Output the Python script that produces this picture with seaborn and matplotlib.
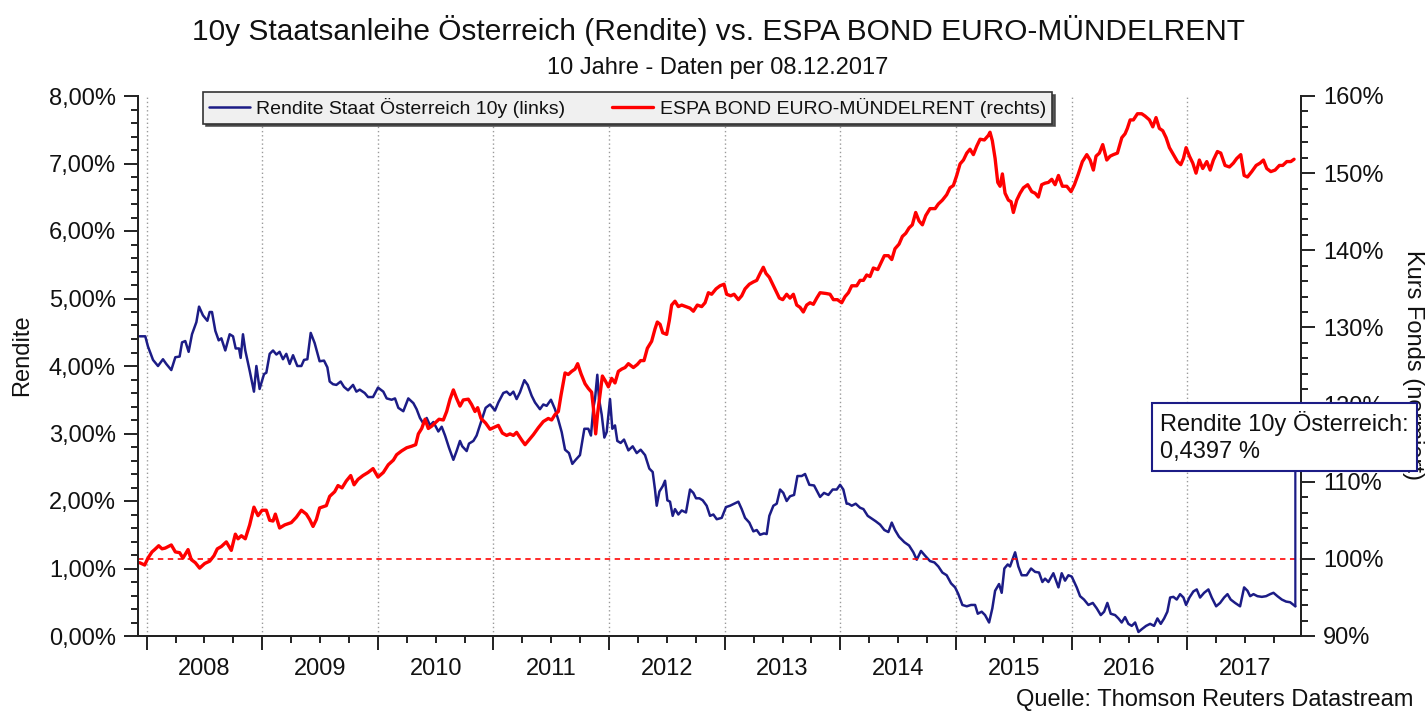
import numpy as np
import pandas as pd
import matplotlib
matplotlib.use("Agg")
import matplotlib.pyplot as plt
import seaborn as sns
from matplotlib.ticker import MultipleLocator, FixedLocator, FuncFormatter, NullFormatter

# ---------------- data ----------------
title = "10y Staatsanleihe Österreich (Rendite) vs. ESPA BOND EURO-MÜNDELRENT"
subtitle = "10 Jahre - Daten per 08.12.2017"
source = "Quelle: Thomson Reuters Datastream"
label_blue = "Rendite Staat Österreich 10y (links)"
label_red = "ESPA BOND EURO-MÜNDELRENT (rechts)"
ylabel_left = "Rendite"
ylabel_right = "Kurs Fonds (normiert)"
last_label = "Rendite 10y Österreich:\n0,4397 %"
years = list(range(2008, 2018))

# Rendite 10y Austria (left axis, %), time in decimal years
blue_t = [2007.939, 2007.988, 2008.011, 2008.055, 2008.098, 2008.141, 2008.170, 2008.213, 2008.248, 2008.285,
          2008.306, 2008.334, 2008.363, 2008.392, 2008.430, 2008.453, 2008.487, 2008.525, 2008.545, 2008.565,
          2008.594, 2008.623, 2008.646, 2008.680, 2008.718, 2008.747, 2008.770, 2008.799, 2008.813, 2008.833,
          2008.853, 2008.891, 2008.928, 2008.949, 2008.977, 2009.015, 2009.035, 2009.064, 2009.093, 2009.122,
          2009.150, 2009.179, 2009.208, 2009.237, 2009.266, 2009.303, 2009.338, 2009.361, 2009.390, 2009.419,
          2009.453, 2009.496, 2009.534, 2009.563, 2009.583, 2009.612, 2009.641, 2009.678, 2009.707, 2009.742,
          2009.785, 2009.814, 2009.843, 2009.886, 2009.915, 2009.958, 2010.001,
          2010.047, 2010.076, 2010.119, 2010.148, 2010.177, 2010.220, 2010.263, 2010.307, 2010.335, 2010.364,
          2010.393, 2010.422, 2010.451, 2010.480, 2010.523, 2010.552, 2010.581, 2010.615, 2010.653, 2010.681,
          2010.710, 2010.730, 2010.768, 2010.788, 2010.826, 2010.854, 2010.898, 2010.932, 2010.970, 2011.013,
          2011.042, 2011.085, 2011.114, 2011.143, 2011.172, 2011.200, 2011.229, 2011.267, 2011.296, 2011.330,
          2011.359, 2011.402, 2011.431, 2011.460, 2011.497, 2011.532, 2011.561, 2011.590, 2011.619, 2011.653,
          2011.682, 2011.711, 2011.748, 2011.786, 2011.820, 2011.843, 2011.864, 2011.878, 2011.898, 2011.913,
          2011.936, 2011.959, 2011.979, 2012.008, 2012.028,
          2012.051, 2012.071, 2012.100, 2012.129, 2012.167, 2012.204, 2012.239, 2012.273, 2012.311, 2012.348,
          2012.377, 2012.397, 2012.412, 2012.435, 2012.464, 2012.484, 2012.504, 2012.527, 2012.550, 2012.570,
          2012.599, 2012.628, 2012.665, 2012.700, 2012.729, 2012.752, 2012.781, 2012.810, 2012.844, 2012.873,
          2012.902, 2012.931, 2012.974, 2013.011, 2013.046, 2013.081, 2013.118, 2013.147, 2013.176, 2013.213,
          2013.248, 2013.277, 2013.306, 2013.340, 2013.363, 2013.386, 2013.421, 2013.450, 2013.479, 2013.507,
          2013.536, 2013.565, 2013.600, 2013.629, 2013.666, 2013.695, 2013.732, 2013.773, 2013.825, 2013.859,
          2013.897, 2013.934, 2013.969, 2013.998, 2014.026, 2014.055,
          2014.070, 2014.099, 2014.133, 2014.171, 2014.200, 2014.237, 2014.272, 2014.306, 2014.344, 2014.381,
          2014.416, 2014.445, 2014.473, 2014.508, 2014.554, 2014.595, 2014.632, 2014.661, 2014.698, 2014.733,
          2014.776, 2014.814, 2014.848, 2014.883, 2014.920, 2014.958, 2014.993, 2015.021, 2015.056, 2015.094,
          2015.131, 2015.166, 2015.189, 2015.223, 2015.252, 2015.287, 2015.315, 2015.339, 2015.373, 2015.396,
          2015.419, 2015.448, 2015.468, 2015.512, 2015.540, 2015.569, 2015.612, 2015.650, 2015.685, 2015.719,
          2015.748, 2015.771, 2015.800, 2015.843, 2015.887, 2015.915, 2015.944, 2015.973, 2016.002, 2016.045,
          2016.074,
          2016.108, 2016.146, 2016.184, 2016.218, 2016.253, 2016.282, 2016.310, 2016.339, 2016.377, 2016.406,
          2016.434, 2016.463, 2016.492, 2016.521, 2016.550, 2016.579, 2016.607, 2016.645, 2016.680, 2016.714,
          2016.743, 2016.772, 2016.801, 2016.829, 2016.853, 2016.881, 2016.910, 2016.939, 2016.968, 2016.991,
          2017.020, 2017.054, 2017.083, 2017.112, 2017.147, 2017.184, 2017.213, 2017.251, 2017.285, 2017.320,
          2017.349, 2017.377, 2017.415, 2017.458, 2017.493, 2017.522, 2017.545, 2017.574, 2017.608, 2017.646,
          2017.683, 2017.718, 2017.747, 2017.781, 2017.819, 2017.856, 2017.891, 2017.936]
blue_v = [4.44, 4.44, 4.29, 4.09, 4.00, 4.10, 4.03, 3.94, 4.13, 4.14,
          4.35, 4.37, 4.21, 4.47, 4.65, 4.88, 4.75, 4.67, 4.80, 4.80,
          4.52, 4.38, 4.41, 4.23, 4.47, 4.44, 4.26, 4.26, 4.12, 4.47,
          4.23, 3.93, 3.62, 4.00, 3.66, 3.88, 3.90, 4.18, 4.23, 4.17,
          4.21, 4.10, 4.18, 4.03, 4.16, 4.00, 4.00, 4.09, 4.10, 4.49,
          4.34, 4.07, 4.08, 3.98, 3.77, 3.73, 3.72, 3.77, 3.69, 3.64,
          3.72, 3.62, 3.65, 3.60, 3.54, 3.54, 3.68,
          3.62, 3.52, 3.50, 3.52, 3.38, 3.33, 3.52, 3.45, 3.36, 3.23,
          3.15, 3.23, 3.12, 3.17, 3.03, 3.10, 2.97, 2.79, 2.61, 2.74,
          2.89, 2.81, 2.74, 2.85, 2.89, 2.97, 3.20, 3.38, 3.43, 3.34,
          3.46, 3.60, 3.62, 3.57, 3.62, 3.51, 3.61, 3.79, 3.72, 3.56,
          3.46, 3.36, 3.43, 3.41, 3.50, 3.36, 3.20, 3.02, 2.76, 2.71,
          2.55, 2.61, 2.68, 3.07, 3.07, 2.97, 3.38, 3.51, 3.87, 3.51,
          3.28, 2.94, 3.02, 3.51, 3.07,
          3.12, 2.89, 2.86, 2.91, 2.75, 2.81, 2.71, 2.76, 2.68, 2.48,
          2.43, 2.17, 1.93, 2.14, 2.22, 2.30, 2.01, 1.99, 1.78, 1.88,
          1.80, 1.86, 1.83, 2.17, 2.12, 2.04, 2.04, 2.01, 1.93, 1.78,
          1.80, 1.73, 1.75, 1.91, 1.93, 1.96, 1.99, 1.88, 1.75, 1.68,
          1.55, 1.57, 1.50, 1.52, 1.51, 1.78, 1.93, 1.96, 2.17, 2.12,
          2.00, 2.07, 2.09, 2.37, 2.37, 2.40, 2.24, 2.23, 2.06, 2.12,
          2.09, 2.17, 2.17, 2.24, 2.17, 1.96,
          1.96, 1.93, 1.96, 1.90, 1.88, 1.78, 1.74, 1.70, 1.65, 1.57,
          1.54, 1.68, 1.57, 1.47, 1.39, 1.34, 1.24, 1.13, 1.26, 1.19,
          1.11, 1.09, 1.03, 0.94, 0.90, 0.78, 0.72, 0.62, 0.46, 0.44,
          0.46, 0.46, 0.33, 0.36, 0.31, 0.20, 0.41, 0.67, 0.77, 0.64,
          1.00, 1.06, 1.03, 1.24, 1.03, 0.90, 0.90, 1.00, 0.95, 0.94,
          0.80, 0.85, 0.80, 0.93, 0.72, 0.93, 0.82, 0.90, 0.88, 0.72,
          0.59,
          0.54, 0.46, 0.49, 0.41, 0.31, 0.36, 0.49, 0.33, 0.31, 0.26,
          0.20, 0.28, 0.18, 0.15, 0.20, 0.06, 0.10, 0.15, 0.18, 0.15,
          0.26, 0.18, 0.26, 0.36, 0.57, 0.58, 0.54, 0.62, 0.57, 0.46,
          0.57, 0.66, 0.69, 0.57, 0.64, 0.69, 0.57, 0.44, 0.49, 0.57,
          0.62, 0.54, 0.49, 0.44, 0.72, 0.67, 0.59, 0.62, 0.59, 0.58,
          0.59, 0.62, 0.64, 0.59, 0.54, 0.51, 0.50, 0.44]

# ESPA BOND EURO-MÜNDELRENT (right axis, % normalised)
red_t = [2007.939, 2007.983, 2008.011, 2008.046, 2008.069, 2008.104, 2008.133, 2008.161, 2008.213, 2008.248,
         2008.285, 2008.314, 2008.358, 2008.386, 2008.421, 2008.458, 2008.502, 2008.545, 2008.582, 2008.611,
         2008.646, 2008.689, 2008.732, 2008.767, 2008.790, 2008.819, 2008.853, 2008.891, 2008.928, 2008.963,
         2008.998, 2009.035, 2009.064, 2009.093, 2009.113, 2009.150, 2009.194, 2009.251, 2009.295, 2009.338,
         2009.381, 2009.410, 2009.439, 2009.468, 2009.496, 2009.554, 2009.583, 2009.626, 2009.655, 2009.690,
         2009.727, 2009.765, 2009.794, 2009.828, 2009.871, 2009.915, 2009.958, 2010.001,
         2010.047, 2010.090, 2010.134, 2010.162, 2010.206, 2010.249, 2010.292, 2010.327, 2010.350, 2010.379,
         2010.408, 2010.436, 2010.465, 2010.494, 2010.529, 2010.566, 2010.595, 2010.624, 2010.653, 2010.681,
         2010.710, 2010.739, 2010.782, 2010.811, 2010.840, 2010.863, 2010.892, 2010.932, 2010.970, 2011.013,
         2011.042, 2011.077, 2011.114, 2011.143, 2011.172, 2011.200, 2011.244, 2011.273, 2011.301, 2011.345,
         2011.388, 2011.431, 2011.474, 2011.503, 2011.532, 2011.561, 2011.584, 2011.619, 2011.647, 2011.676,
         2011.705, 2011.728, 2011.757, 2011.792, 2011.820, 2011.849, 2011.864, 2011.884, 2011.901, 2011.921,
         2011.942, 2011.970, 2011.994, 2012.022, 2012.051,
         2012.080, 2012.109, 2012.138, 2012.167, 2012.210, 2012.244, 2012.273, 2012.302, 2012.331, 2012.368,
         2012.397, 2012.417, 2012.441, 2012.464, 2012.498, 2012.521, 2012.541, 2012.570, 2012.599, 2012.628,
         2012.665, 2012.700, 2012.729, 2012.763, 2012.801, 2012.830, 2012.859, 2012.887, 2012.925, 2012.960,
         2012.994, 2013.017, 2013.052, 2013.081, 2013.118, 2013.147, 2013.176, 2013.213, 2013.248, 2013.277,
         2013.306, 2013.334, 2013.357, 2013.386, 2013.421, 2013.444, 2013.473, 2013.502, 2013.536, 2013.565,
         2013.594, 2013.623, 2013.652, 2013.680, 2013.709, 2013.738, 2013.767, 2013.796, 2013.825, 2013.877,
         2013.911, 2013.940, 2013.975, 2014.012, 2014.041,
         2014.070, 2014.099, 2014.142, 2014.171, 2014.200, 2014.228, 2014.257, 2014.286, 2014.324, 2014.352,
         2014.381, 2014.416, 2014.445, 2014.473, 2014.508, 2014.537, 2014.566, 2014.595, 2014.623, 2014.652,
         2014.681, 2014.710, 2014.739, 2014.776, 2014.820, 2014.848, 2014.883, 2014.920, 2014.949, 2014.978,
         2015.007, 2015.036, 2015.065, 2015.094, 2015.122, 2015.151, 2015.180, 2015.209, 2015.246, 2015.281,
         2015.295, 2015.315, 2015.339, 2015.362, 2015.382, 2015.402, 2015.425, 2015.454, 2015.477, 2015.497,
         2015.526, 2015.555, 2015.584, 2015.621, 2015.656, 2015.685, 2015.713, 2015.742, 2015.771, 2015.800,
         2015.829, 2015.858, 2015.887, 2015.921, 2015.959, 2015.996, 2016.025, 2016.059, 2016.094,
         2016.103, 2016.132, 2016.161, 2016.189, 2016.212, 2016.241, 2016.270, 2016.305, 2016.334, 2016.362,
         2016.397, 2016.435, 2016.463, 2016.483, 2016.507, 2016.535, 2016.570, 2016.607, 2016.636, 2016.674,
         2016.703, 2016.731, 2016.760, 2016.789, 2016.818, 2016.847, 2016.881, 2016.916, 2016.945, 2016.968,
         2016.991, 2017.020, 2017.049, 2017.077, 2017.106, 2017.135, 2017.170, 2017.199, 2017.227, 2017.262,
         2017.291, 2017.328, 2017.366, 2017.400, 2017.429, 2017.464, 2017.493, 2017.522, 2017.559, 2017.597,
         2017.631, 2017.660, 2017.689, 2017.724, 2017.761, 2017.798, 2017.827, 2017.862, 2017.897, 2017.925]
red_v = [99.5, 99.2, 100.1, 100.9, 101.2, 101.7, 101.3, 101.4, 101.8, 100.9,
         100.8, 100.1, 101.2, 99.9, 99.5, 98.8, 99.4, 99.7, 100.4, 101.3,
         101.6, 102.2, 101.1, 103.2, 102.6, 103.0, 102.6, 104.4, 106.7, 105.6,
         106.3, 106.3, 105.0, 104.9, 105.8, 104.0, 104.4, 104.7, 105.4, 106.3,
         105.8, 105.1, 104.2, 105.1, 106.6, 106.9, 108.1, 108.7, 109.5, 109.2,
         110.1, 110.8, 109.6, 110.3, 110.8, 111.2, 111.7, 110.6,
         111.2, 112.2, 112.8, 113.5, 114.0, 114.4, 114.6, 114.8, 116.2, 116.9,
         118.1, 116.9, 117.2, 117.6, 118.1, 118.0, 119.1, 120.7, 121.9, 120.8,
         119.8, 120.6, 120.7, 120.0, 119.1, 119.6, 118.2, 117.6, 116.8, 117.1,
         117.3, 116.3, 116.0, 116.2, 116.0, 116.4, 115.4, 114.8, 115.3, 116.1,
         117.0, 117.8, 118.2, 118.0, 118.7, 119.1, 121.2, 124.1, 123.9, 124.3,
         124.6, 125.3, 124.0, 122.7, 122.1, 121.6, 119.6, 116.2, 118.9, 121.2,
         123.7, 123.0, 122.3, 123.4, 122.8,
         124.3, 124.6, 124.8, 125.3, 124.8, 125.2, 125.7, 125.7, 127.3, 128.2,
         129.8, 130.7, 130.4, 129.3, 129.1, 130.9, 132.9, 133.4, 132.7, 132.9,
         132.7, 132.5, 132.1, 132.9, 132.7, 133.2, 134.5, 134.3, 135.0, 135.4,
         135.6, 134.3, 134.1, 134.3, 133.6, 134.1, 135.0, 135.6, 135.9, 136.1,
         137.0, 137.8, 137.0, 136.5, 135.4, 134.7, 133.8, 133.6, 134.3, 133.8,
         134.3, 132.9, 132.6, 132.0, 132.9, 133.2, 133.0, 133.8, 134.5, 134.4,
         134.3, 133.6, 133.6, 133.2, 134.0,
         134.5, 135.4, 135.4, 136.1, 136.1, 136.8, 136.6, 137.7, 137.5, 138.4,
         139.3, 139.3, 138.8, 140.2, 140.8, 141.8, 142.2, 142.9, 143.3, 144.9,
         143.8, 143.3, 144.5, 145.4, 145.4, 146.0, 146.5, 147.2, 148.1, 148.4,
         149.7, 151.2, 151.7, 152.6, 153.1, 152.4, 153.5, 154.4, 154.3, 154.9,
         155.3, 154.2, 151.9, 148.8, 148.3, 149.9, 147.4, 146.5, 146.3, 144.9,
         146.5, 147.4, 148.1, 148.5, 147.6, 147.4, 146.9, 148.5, 148.7, 148.8,
         149.2, 148.5, 149.7, 148.3, 148.3, 147.6, 148.5, 149.9, 151.5,
         151.7, 152.4, 151.7, 150.4, 152.2, 152.6, 153.7, 151.7, 152.2, 152.4,
         152.6, 154.6, 155.1, 155.8, 156.9, 156.9, 157.7, 157.7, 157.4, 156.9,
         156.0, 157.2, 155.8, 155.5, 154.6, 153.3, 152.4, 151.5, 151.1, 151.9,
         153.3, 152.2, 151.3, 150.0, 151.7, 150.6, 151.5, 150.4, 151.7, 152.8,
         152.6, 151.0, 150.8, 151.3, 151.9, 152.4, 149.7, 149.5, 150.2, 151.0,
         151.3, 151.7, 150.6, 150.2, 150.4, 151.0, 151.0, 151.5, 151.5, 151.8]

# ---------------- styling ----------------
NAVY = "#1c1c86"
RED = "#ff0000"
TXT = "#111111"
W, H = 1426, 713

sns.set_theme(style="ticks")
plt.rcParams["font.family"] = ["Liberation Sans", "DejaVu Sans"]
plt.rcParams["text.color"] = TXT
plt.rcParams["axes.labelcolor"] = TXT
plt.rcParams["xtick.color"] = "#222222"
plt.rcParams["ytick.color"] = "#222222"

fig = plt.figure(figsize=(W / 100, H / 100), dpi=100)
ax = fig.add_axes([138 / W, (H - 636) / H, (1301 - 138) / W, (636 - 96) / H])
ax2 = ax.twinx()

df_b = pd.DataFrame({"Jahr": blue_t, "Rendite": blue_v})
df_r = pd.DataFrame({"Jahr": red_t, "Kurs": red_v})

sns.lineplot(data=df_b, x="Jahr", y="Rendite", ax=ax, color=NAVY, linewidth=1.8,
             estimator=None, sort=False, legend=False)
sns.lineplot(data=df_r, x="Jahr", y="Kurs", ax=ax2, color=RED, linewidth=2.4,
             estimator=None, sort=False, legend=False)
h_blue = ax.lines[0]
h_red = ax2.lines[0]
ax2.axhline(100, color=RED, linewidth=1.3, linestyle=(0, (3, 2.5)), zorder=1, alpha=0.9)

# x axis
ax.set_xlim(2007.925, 2017.985)
ax.xaxis.set_major_locator(FixedLocator(years))
ax.xaxis.set_major_formatter(NullFormatter())
ax.xaxis.set_minor_locator(MultipleLocator(0.25))
ax.xaxis.set_minor_formatter(FuncFormatter(
    lambda v, p: f"{int(np.floor(v))}" if abs(v - np.floor(v) - 0.5) < 1e-6 else ""))
ax.tick_params(axis="x", which="major", length=10, width=1.4, direction="out", bottom=True)
ax.tick_params(axis="x", which="minor", length=5, width=1.4, direction="out", bottom=True,
               pad=11, labelsize=17, labelcolor=TXT)
ax.grid(axis="x", which="major", color="#9a9a9a", linestyle=(0, (1, 2)), linewidth=1.0)
ax.set_xlabel("")

# left y axis
ax.set_ylim(0, 8)
ax.yaxis.set_major_locator(MultipleLocator(1))
ax.yaxis.set_minor_locator(MultipleLocator(0.2))
ax.yaxis.set_major_formatter(FuncFormatter(lambda v, p: f"{v:.2f}%".replace(".", ",")))
ax.tick_params(axis="y", which="major", length=10, width=1.4, direction="out", left=True,
               pad=6, labelsize=17, labelcolor=TXT)
ax.tick_params(axis="y", which="minor", length=5, width=1.4, direction="out", left=True)
ax.set_ylabel(ylabel_left, fontsize=17, rotation=90, va="center", ha="center")
ax.yaxis.set_label_coords((22 - 138) / (1301 - 138), (636 - 355) / 540)

# right y axis
ax2.set_ylim(90, 160)
ax2.yaxis.set_major_locator(MultipleLocator(10))
ax2.yaxis.set_minor_locator(MultipleLocator(2))
ax2.yaxis.set_major_formatter(FuncFormatter(lambda v, p: f"{v:.0f}%"))
ax2.tick_params(axis="y", which="major", length=10, width=1.4, direction="out", right=True,
                pad=6, labelsize=17, labelcolor=TXT)
ax2.tick_params(axis="y", which="minor", length=5, width=1.4, direction="out", right=True)
ax2.set_ylabel(ylabel_right, fontsize=17, rotation=-90, va="center", ha="center",
               rotation_mode="anchor")
ax2.yaxis.set_label_coords((1413 - 138) / (1301 - 138), (636 - 365) / 540)

for a in (ax, ax2):
    a.spines["top"].set_visible(False)
    for s in ("left", "right", "bottom"):
        a.spines[s].set_color("#222222")
        a.spines[s].set_linewidth(1.4)

# legend
leg = ax2.legend([h_blue, h_red], [label_blue, label_red], loc="upper left",
                 bbox_to_anchor=(203 / W, 1 - 92 / H), bbox_transform=fig.transFigure,
                 ncol=2, frameon=True, fancybox=False,
                 shadow={"ox": 2, "oy": -2, "color": "#444444", "alpha": 0.9},
                 fontsize=14, handlelength=2.1, handletextpad=0.35, columnspacing=2.4,
                 borderpad=0.3, borderaxespad=0)
leg.get_frame().set_facecolor("#f0f0f0")
leg.get_frame().set_edgecolor("#333333")
leg.get_frame().set_linewidth(1.2)
leg.set_zorder(5)

# titles & source
fig.text(718 / W, 1 - 30 / H, title, ha="center", va="center", fontsize=21.5, color=TXT)
fig.text(718 / W, 1 - 68 / H, subtitle, ha="center", va="center", fontsize=17, color=TXT)
fig.text(1413 / W, 1 - 700 / H, source, ha="right", va="center", fontsize=17, color=TXT)

# annotation of the last value (box + connector)
txt_xy = (1160, H - 437)
tmp = fig.text(txt_xy[0] / W, txt_xy[1] / H, last_label, fontsize=17, linespacing=1.25,
               ha="left", va="center")
fig.canvas.draw()
ext = tmp.get_window_extent(fig.canvas.get_renderer())
tmp.remove()
px = ax.transData.transform((blue_t[-1], blue_v[-1]))[0]
relx = (px - ext.x0) / ext.width
ax2.annotate(last_label, xy=(blue_t[-1], blue_v[-1]), xycoords=ax.transData,
             xytext=txt_xy, textcoords="figure pixels", ha="left", va="center",
             fontsize=17, linespacing=1.25, color=TXT, zorder=10, annotation_clip=False,
             bbox=dict(boxstyle="square,pad=0.35", fc="white", ec=NAVY, lw=1.5),
             arrowprops=dict(arrowstyle="-", color=NAVY, lw=1.6, shrinkA=0, shrinkB=0,
                             relpos=(relx, 0)))

fig.savefig("out.png", dpi=100)
